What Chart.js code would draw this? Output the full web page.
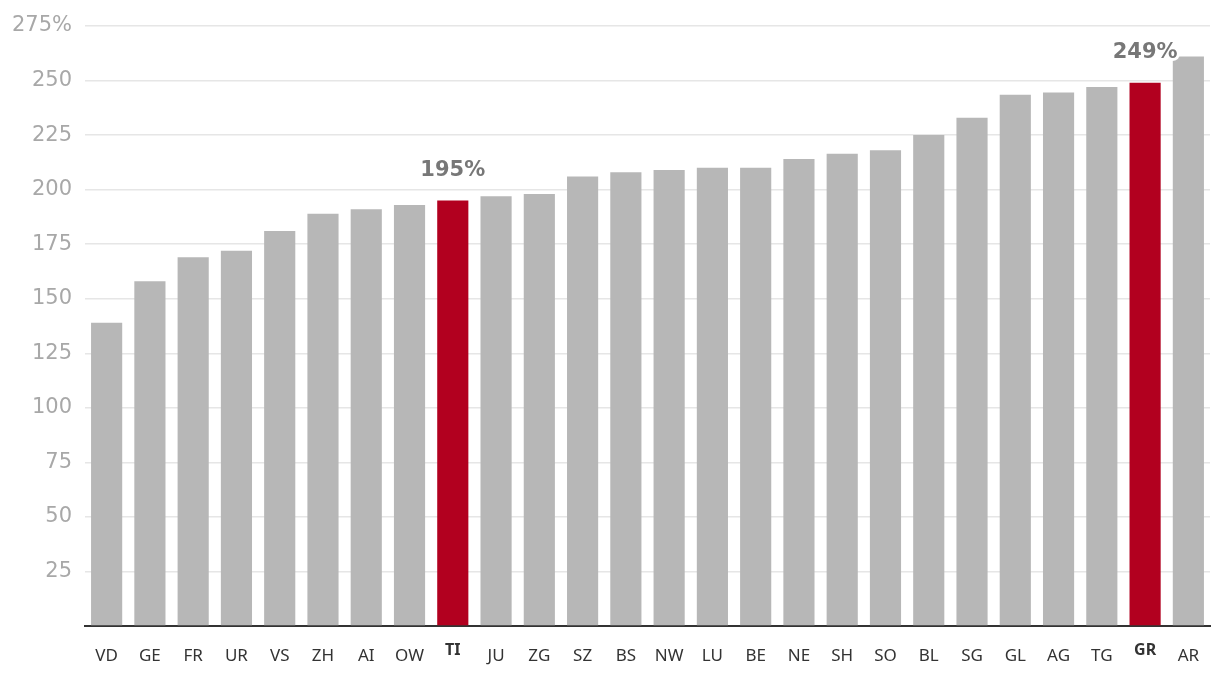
<!DOCTYPE html>
<html>
<head>
<meta charset="utf-8">
<script src="https://cdn.jsdelivr.net/npm/chart.js@4.4.1/dist/chart.umd.min.js"></script>
<style>
  html, body { margin: 0; padding: 0; background: #fff; }
  #wrap { width: 1220px; height: 674px; }
</style>
</head>
<body>
<div id="wrap"><canvas id="c" width="1220" height="674"></canvas></div>
<script>
const categories = ['VD','GE','FR','UR','VS','ZH','AI','OW','TI','JU','ZG','SZ','BS','NW','LU','BE','NE','SH','SO','BL','SG','GL','AG','TG','GR','AR'];
const values = [139,158,169,172,181,189,191,193,195,197,198,206,208,209,210,210,214,216.5,218,225,233,243.5,244.5,247,249,261];
const highlighted = ['TI','GR'];
const yTicks = [0,25,50,75,100,125,150,175,200,225,250,275];

const GRAY = '#b7b7b7';
const RED = '#b2001f';
const FONT = "'Noto Sans', sans-serif";
const FONT_WIDE = "'DejaVu Sans', sans-serif";

const valueLabels = {
  id: 'valueLabels',
  afterDatasetsDraw(chart) {
    const ctx = chart.ctx;
    const meta = chart.getDatasetMeta(0);
    ctx.save();
    ctx.font = 'bold 21px ' + FONT_WIDE;
    ctx.textAlign = 'center';
    ctx.textBaseline = 'middle';
    ctx.lineJoin = 'round';
    meta.data.forEach((bar, i) => {
      if (!highlighted.includes(categories[i])) return;
      const txt = Math.round(values[i]) + '%';
      const y = bar.y - 30;
      ctx.strokeStyle = '#ffffff';
      ctx.lineWidth = 6;
      ctx.strokeText(txt, bar.x, y);
      ctx.fillStyle = '#777777';
      ctx.fillText(txt, bar.x, y);
    });
    ctx.restore();
  }
};

new Chart(document.getElementById('c'), {
  type: 'bar',
  data: {
    labels: categories,
    datasets: [{
      data: values,
      backgroundColor: categories.map(c => highlighted.includes(c) ? RED : GRAY),
      borderWidth: 0,
      barPercentage: 0.72,
      categoryPercentage: 1.0
    }]
  },
  options: {
    responsive: false,
    animation: false,
    events: [],
    layout: { padding: { top: 26, right: 10, left: 0, bottom: 0 } },
    plugins: {
      legend: { display: false },
      tooltip: { enabled: false }
    },
    scales: {
      x: {
        grid: { display: false },
        border: { display: true, color: '#333333', width: 2 },
        ticks: {
          color: '#333333',
          padding: 12,
          maxRotation: 0,
          autoSkip: false,
          font: (ctx) => {
            const lab = categories[ctx.index];
            return highlighted.includes(lab)
              ? { family: FONT, size: 16, weight: 'bold', lineHeight: 0.6 }
              : { family: FONT, size: 17, weight: 'normal', lineHeight: 1.2 };
          }
        },
        afterFit(scale) { scale.height = 48; }
      },
      y: {
        min: 0,
        max: 275,
        afterBuildTicks(scale) { scale.ticks = yTicks.map(v => ({ value: v })); },
        grid: {
          color: (ctx) => (ctx.tick && ctx.tick.value === 0) ? 'rgba(0,0,0,0)' : '#e6e6e6',
          lineWidth: 1.5,
          drawTicks: false
        },
        border: { display: false },
        ticks: {
          color: '#a8a8a8',
          padding: 13,
          font: { family: FONT_WIDE, size: 21 },
          callback: (v) => v === 0 ? '' : (v === 275 ? v + '%' : String(v))
        },
        afterFit(scale) { scale.width = 85; }
      }
    }
  },
  plugins: [valueLabels]
});
</script>
</body>
</html>
